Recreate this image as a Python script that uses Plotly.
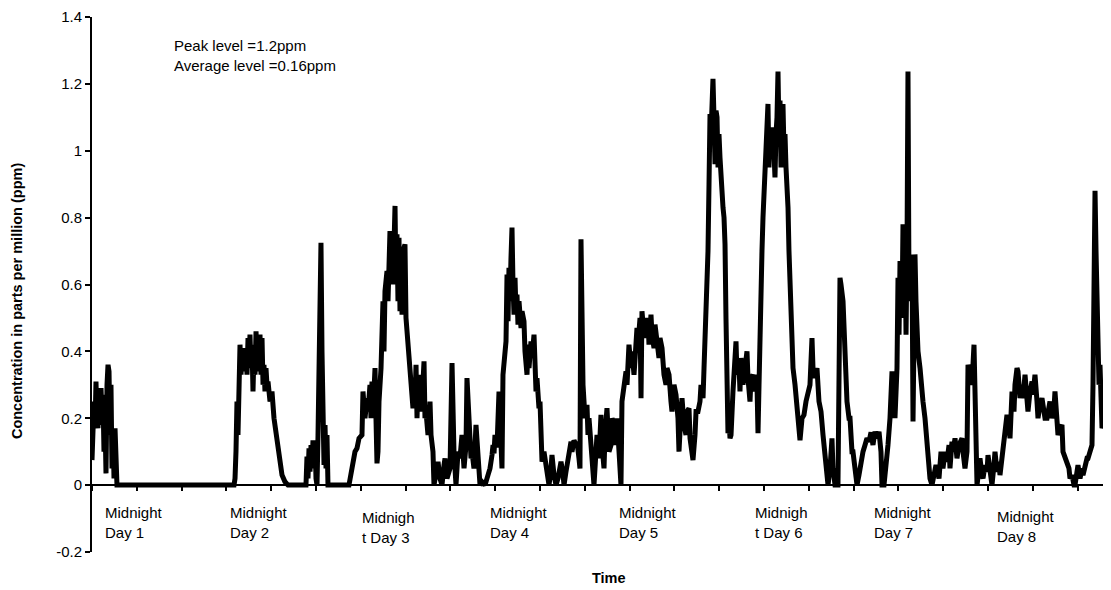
import plotly.graph_objects as go

# ---------------- data (time in hours from start, concentration in ppm) ----------------
t_day1 = [0.00, 0.18, 0.36, 0.54, 0.71, 0.89, 1.07, 1.25, 1.43, 1.61, 1.79, 1.96, 2.14,
          2.32, 2.50, 2.68, 2.86, 3.04, 3.21, 3.39, 3.57, 3.75, 3.93, 4.11, 4.29, 4.46]
c_day1 = [0.075, 0.20, 0.25, 0.17, 0.31, 0.20, 0.17, 0.28, 0.18, 0.29, 0.20, 0.27, 0.10,
          0.20, 0.035, 0.30, 0.36, 0.34, 0.15, 0.30, 0.05, 0.17, 0.02, 0.17, 0.05, 0.00]

t_day2 = [25.36, 25.54, 25.71, 25.89, 26.07, 26.25, 26.43, 26.61, 26.79, 26.96,
          27.14, 27.32, 27.50, 27.68, 27.86, 28.04, 28.21, 28.39, 28.57, 28.75,
          28.93, 29.11, 29.29, 29.46, 29.64, 29.82, 30.00, 30.18, 30.36, 30.54,
          30.71, 30.89, 31.07, 31.25, 31.43, 31.79, 32.14, 32.50, 32.86, 33.21,
          33.57, 33.93, 34.46, 35.00, 38.21, 38.39, 38.57, 38.75, 38.93, 39.11,
          39.29, 39.46, 39.64, 39.82, 40.00, 40.18, 40.36, 40.54, 40.71, 40.89,
          41.07, 41.25, 41.43, 41.61, 41.79, 41.96, 42.14, 45.89, 46.43, 46.61,
          46.96, 47.32, 47.68]
c_day2 = [0.00, 0.02, 0.10, 0.25, 0.15, 0.35, 0.42, 0.33, 0.41, 0.36,
          0.40, 0.34, 0.41, 0.33, 0.44, 0.36, 0.45, 0.35, 0.42, 0.28,
          0.40, 0.33, 0.46, 0.38, 0.44, 0.34, 0.45, 0.33, 0.44, 0.30,
          0.36, 0.28, 0.35, 0.30, 0.31, 0.25, 0.28, 0.20, 0.15, 0.10,
          0.06, 0.03, 0.01, 0.00, 0.00, 0.085, 0.02, 0.11, 0.04, 0.12,
          0.06, 0.134, 0.05, 0.13, 0.02, 0.00, 0.15, 0.29, 0.45, 0.725,
          0.40, 0.21, 0.06, 0.18, 0.05, 0.15, 0.00, 0.00, 0.05, 0.08,
          0.10, 0.11, 0.14]

t_day3 = [48.21, 48.39, 48.75, 49.11, 49.29, 49.64, 49.82, 50.00, 50.18, 50.54,
          50.71, 50.89, 51.07, 51.25, 51.61, 51.96, 52.14, 52.32, 52.68, 52.86,
          53.21, 53.39, 53.57, 53.75, 54.11, 54.29, 54.46, 54.64, 54.82, 55.00,
          55.18, 55.36, 55.54, 55.89, 56.07, 56.25, 56.43, 56.79, 56.96, 57.32,
          57.50, 57.68, 57.86, 58.04, 58.21, 58.57, 58.75, 58.93, 59.29, 59.46,
          59.64, 60.00, 60.36, 60.54, 60.89, 61.07, 61.43, 61.79, 62.14, 62.50,
          62.86, 63.04, 63.39, 63.57, 63.93, 64.29, 64.46, 64.64, 65.00, 65.36,
          65.71, 66.07, 66.43, 66.79, 66.96, 67.14, 67.32, 67.68, 67.86, 68.21,
          68.57, 68.75, 68.93, 69.29, 69.64, 70.18, 70.71, 71.07, 71.43, 71.61,
          71.79, 71.96]
c_day3 = [0.15, 0.28, 0.20, 0.26, 0.22, 0.30, 0.20, 0.31, 0.22, 0.35,
          0.20, 0.065, 0.10, 0.25, 0.35, 0.55, 0.40, 0.58, 0.64, 0.55,
          0.76, 0.60, 0.72, 0.60, 0.835, 0.60, 0.75, 0.55, 0.74, 0.52,
          0.70, 0.51, 0.70, 0.72, 0.50, 0.46, 0.42, 0.38, 0.30, 0.23,
          0.30, 0.25, 0.36, 0.20, 0.30, 0.22, 0.33, 0.25, 0.37, 0.20,
          0.22, 0.15, 0.25, 0.15, 0.10, 0.00, 0.05, 0.07, 0.02, 0.00,
          0.06, 0.08, 0.02, 0.03, 0.05, 0.365, 0.20, 0.10, 0.00, 0.10,
          0.08, 0.15, 0.05, 0.12, 0.32, 0.25, 0.15, 0.08, 0.10, 0.05,
          0.18, 0.12, 0.05, 0.00, 0.01, 0.00, 0.03, 0.05, 0.09, 0.12,
          0.095, 0.15]

t_day4 = [72.32, 72.68, 72.86, 73.21, 73.39, 73.75, 73.93, 74.11, 74.29, 74.46,
          74.64, 74.82, 75.00, 75.18, 75.36, 75.54, 75.71, 75.89, 76.07, 76.25,
          76.61, 76.79, 77.14, 77.32, 77.68, 77.86, 78.04, 78.39, 78.57, 78.93,
          79.11, 79.29, 79.46, 79.82, 80.00, 80.18, 80.36, 80.71, 81.07, 81.25,
          81.61, 81.96, 82.14, 82.50, 82.86, 83.21, 83.57, 83.75, 84.11, 84.29,
          84.64, 85.00, 85.18, 85.54, 85.71, 86.07, 86.43, 86.61, 86.96, 87.14,
          87.32, 87.50, 87.68, 88.04, 88.39, 88.57, 88.75, 89.11, 89.29, 89.64,
          89.82, 90.18, 90.54, 90.89, 91.07, 91.43, 91.61, 91.96, 92.32, 92.68,
          92.86, 93.21, 93.57, 93.75, 94.11, 94.46, 94.64, 95.00, 95.36, 95.54,
          95.89]
c_day4 = [0.113, 0.28, 0.20, 0.05, 0.33, 0.40, 0.43, 0.63, 0.49, 0.65,
          0.55, 0.68, 0.77, 0.60, 0.51, 0.62, 0.52, 0.57, 0.48, 0.55,
          0.47, 0.52, 0.49, 0.40, 0.33, 0.42, 0.35, 0.43, 0.38, 0.45,
          0.36, 0.28, 0.32, 0.23, 0.25, 0.15, 0.07, 0.10, 0.065, 0.03,
          0.00, 0.05, 0.09, 0.03, 0.00, 0.02, 0.05, 0.07, 0.03, 0.00,
          0.04, 0.08, 0.095, 0.13, 0.10, 0.134, 0.12, 0.13, 0.08, 0.05,
          0.735, 0.60, 0.30, 0.20, 0.24, 0.15, 0.20, 0.12, 0.05, 0.00,
          0.05, 0.15, 0.08, 0.21, 0.12, 0.05, 0.15, 0.23, 0.10, 0.12,
          0.20, 0.18, 0.12, 0.20, 0.10, 0.00, 0.25, 0.30, 0.34, 0.30,
          0.42]

t_day5 = [96.25, 96.43, 96.79, 96.96, 97.32, 97.50, 97.86, 98.04, 98.21, 98.57,
          98.75, 98.93, 99.29, 99.46, 99.82, 100.00, 100.36, 100.54, 100.89, 101.25,
          101.43, 101.79, 102.14, 102.50, 102.68, 103.04, 103.39, 103.57, 103.93, 104.29,
          104.64, 104.82, 105.18, 105.36, 105.71, 106.07, 106.25, 106.61, 106.79, 107.14,
          107.32, 107.68, 107.86, 108.21, 108.57, 108.75, 109.11, 109.29, 109.64, 109.82,
          110.00, 110.18, 110.36, 110.54, 110.71, 110.89, 111.07, 111.25, 111.43, 111.61,
          111.79, 111.96, 112.14, 112.32, 112.50, 112.68, 112.86, 113.04, 113.21, 113.39,
          113.57, 113.75, 113.93, 114.11, 114.46, 114.64, 115.00, 115.18, 115.54, 115.71,
          115.89, 116.25, 116.61, 116.96, 117.14, 117.50, 117.68, 118.04, 118.21, 118.39,
          118.75, 118.93, 119.11, 119.29, 119.64, 119.82]
c_day5 = [0.35, 0.40, 0.33, 0.40, 0.47, 0.42, 0.50, 0.26, 0.52, 0.45,
          0.50, 0.44, 0.50, 0.42, 0.51, 0.45, 0.41, 0.48, 0.43, 0.38,
          0.44, 0.41, 0.33, 0.30, 0.35, 0.33, 0.25, 0.22, 0.30, 0.27,
          0.20, 0.10, 0.22, 0.26, 0.18, 0.15, 0.22, 0.23, 0.14, 0.08,
          0.075, 0.15, 0.22, 0.22, 0.25, 0.30, 0.26, 0.35, 0.50, 0.55,
          0.70, 0.90, 1.11, 1.05, 1.15, 1.215, 1.10, 0.96, 1.12, 1.10,
          0.95, 1.05, 0.98, 0.90, 0.85, 0.83, 0.80, 0.72, 0.50, 0.30,
          0.155, 0.20, 0.14, 0.15, 0.28, 0.35, 0.43, 0.33, 0.36, 0.28,
          0.38, 0.30, 0.35, 0.40, 0.32, 0.25, 0.32, 0.33, 0.28, 0.33,
          0.30, 0.155, 0.30, 0.50, 0.70, 0.80]

t_day6 = [120.00, 120.18, 120.36, 120.54, 120.71, 120.89, 121.07, 121.25, 121.43, 121.61,
          121.79, 121.96, 122.14, 122.32, 122.50, 122.68, 122.86, 123.04, 123.21, 123.39,
          123.57, 123.75, 123.93, 124.11, 124.29, 124.46, 124.64, 124.82, 125.00, 125.18,
          125.54, 125.89, 126.07, 126.43, 126.79, 127.14, 127.50, 127.86, 128.21, 128.57,
          128.75, 129.11, 129.46, 129.82, 130.18, 130.54, 130.89, 131.25, 131.43, 131.79,
          132.14, 132.32, 132.68, 133.21, 133.39, 133.57, 133.75, 134.11, 134.46, 134.82,
          135.18, 135.36, 135.71, 135.89, 136.25, 136.61, 136.96, 137.32, 137.68, 138.04,
          138.39, 138.75, 139.11, 139.46, 139.82, 140.18, 140.54, 140.89, 141.07, 141.43,
          141.79, 142.14, 142.50, 142.86, 143.21, 143.39, 143.75, 143.93]
c_day6 = [0.87, 0.90, 0.95, 1.00, 1.14, 0.95, 1.05, 0.98, 1.00, 1.07,
          0.95, 0.92, 1.05, 1.10, 1.237, 1.05, 1.15, 0.95, 1.10, 1.14,
          1.00, 1.05, 0.95, 0.90, 0.83, 0.70, 0.60, 0.50, 0.42, 0.35,
          0.30, 0.24, 0.18, 0.134, 0.20, 0.21, 0.25, 0.28, 0.30, 0.44,
          0.35, 0.32, 0.35, 0.25, 0.22, 0.15, 0.10, 0.05, 0.00, 0.05,
          0.14, 0.05, 0.00, 0.00, 0.20, 0.62, 0.60, 0.55, 0.40, 0.25,
          0.20, 0.20, 0.10, 0.10, 0.05, 0.00, 0.03, 0.08, 0.10, 0.12,
          0.14, 0.13, 0.158, 0.12, 0.16, 0.14, 0.16, 0.10, 0.00, 0.00,
          0.05, 0.12, 0.20, 0.34, 0.30, 0.20, 0.35, 0.62]

t_day7 = [144.11, 144.29, 144.46, 144.64, 144.82, 145.00, 145.18, 145.36, 145.54, 145.71,
          145.89, 146.07, 146.25, 146.43, 146.61, 146.79, 146.96, 147.14, 147.32, 147.50,
          147.86, 148.04, 148.39, 148.75, 149.11, 149.29, 149.64, 150.00, 150.36, 150.71,
          150.89, 151.25, 151.61, 151.96, 152.32, 152.68, 153.04, 153.21, 153.57, 153.75,
          154.11, 154.46, 154.82, 155.36, 155.54, 155.89, 156.25, 156.43, 156.79, 157.14,
          157.50, 157.68, 158.04, 158.39, 158.57, 158.93, 159.11, 159.46, 159.82, 160.00,
          160.36, 160.71, 161.07, 161.25, 161.61, 161.96, 162.14, 162.50, 162.68, 163.04,
          163.39, 163.75, 163.93, 164.29, 164.64, 164.82, 165.18, 165.36, 165.71, 166.07,
          166.25, 166.61, 166.96, 167.14, 167.50, 167.86]
c_day7 = [0.45, 0.67, 0.55, 0.50, 0.78, 0.60, 0.75, 0.45, 0.70, 1.237,
          0.60, 0.55, 0.65, 0.69, 0.19, 0.50, 0.69, 0.55, 0.46, 0.40,
          0.35, 0.30, 0.25, 0.20, 0.12, 0.08, 0.02, 0.00, 0.03, 0.06,
          0.05, 0.02, 0.10, 0.05, 0.10, 0.07, 0.12, 0.05, 0.13, 0.10,
          0.14, 0.08, 0.12, 0.14, 0.10, 0.05, 0.10, 0.36, 0.33, 0.30,
          0.42, 0.30, 0.00, 0.05, 0.08, 0.03, 0.02, 0.06, 0.04, 0.09,
          0.03, 0.00, 0.06, 0.10, 0.04, 0.07, 0.03, 0.08, 0.10, 0.15,
          0.21, 0.17, 0.14, 0.28, 0.22, 0.30, 0.35, 0.34, 0.26, 0.30,
          0.26, 0.33, 0.25, 0.22, 0.28, 0.31]

t_day8 = [168.04, 168.39, 168.75, 168.93, 169.29, 169.64, 170.00, 170.18, 170.54, 170.89,
          171.07, 171.43, 171.79, 171.96, 172.32, 172.50, 172.86, 173.21, 173.39, 173.75,
          174.11, 174.46, 174.64, 175.00, 175.36, 175.54, 175.89, 176.07, 176.43, 176.79,
          176.96, 177.32, 177.68, 177.86, 178.21, 178.57, 178.75, 178.93, 179.11, 179.29,
          179.46, 179.64, 179.82, 180.00, 180.18, 180.36, 180.54, 180.71, 180.89, 181.07,
          181.25, 181.43, 181.61, 181.79, 182.14]
c_day8 = [0.27, 0.33, 0.25, 0.20, 0.24, 0.26, 0.22, 0.20, 0.20, 0.24,
          0.25, 0.20, 0.23, 0.28, 0.20, 0.15, 0.17, 0.18, 0.10, 0.08,
          0.06, 0.05, 0.02, 0.03, 0.00, 0.00, 0.04, 0.06, 0.02, 0.05,
          0.03, 0.06, 0.08, 0.08, 0.10, 0.12, 0.30, 0.75, 0.88, 0.70,
          0.50, 0.40, 0.30, 0.36, 0.25, 0.17, 0.18, 0.30, 0.25, 0.36,
          0.34, 0.30, 0.20, 0.15, 0.30]

# day labels (text boxes under the axis): text, x (hours), y (ppm)
day_label_text = ["Midnight<br>Day 1", "Midnight<br>Day 2", "Midnigh<br>t Day 3",
                  "Midnight<br>Day 4", "Midnight<br>Day 5", "Midnigh<br>t Day 6",
                  "Midnight<br>Day 7", "Midnight<br>Day 8"]
day_label_hour = [1.9, 24.2, 47.9, 70.8, 93.7, 118.0, 139.2, 161.2]
day_label_ppm = [-0.112, -0.112, -0.128, -0.112, -0.112, -0.112, -0.112, -0.124]

y_tick_vals = [-0.2, 0, 0.2, 0.4, 0.6, 0.8, 1, 1.2, 1.4]
y_tick_text = ["-0.2", "0", "0.2", "0.4", "0.6", "0.8", "1", "1.2", "1.4"]

stats_text = "Peak level =1.2ppm<br>Average level =0.16ppm"

# ---------------- figure ----------------
hours = t_day1 + t_day2 + t_day3 + t_day4 + t_day5 + t_day6 + t_day7 + t_day8
ppm = c_day1 + c_day2 + c_day3 + c_day4 + c_day5 + c_day6 + c_day7 + c_day8

FONT = "Liberation Sans, Arial, sans-serif"

fig = go.Figure()
fig.add_trace(go.Scatter(x=hours, y=ppm, mode="lines",
                         line=dict(color="#000000", width=5),
                         hoverinfo="skip", showlegend=False))

annotations = []
for txt, hx, hy in zip(day_label_text, day_label_hour, day_label_ppm):
    annotations.append(dict(x=hx, y=hy, xref="x", yref="y", text=txt, showarrow=False,
                            xanchor="left", yanchor="middle", align="left",
                            font=dict(family=FONT, size=15, color="#000")))
annotations.append(dict(x=14.3, y=1.286, xref="x", yref="y", text=stats_text,
                        showarrow=False, xanchor="left", yanchor="middle", align="left",
                        font=dict(family=FONT, size=15, color="#000")))
annotations.append(dict(x=-0.0736, y=0.469, xref="paper", yref="paper",
                        text="<b>Concentration in parts per million (ppm)</b>",
                        textangle=-90, showarrow=False, xanchor="center", yanchor="middle",
                        font=dict(family=FONT, size=14.5, color="#000")))
annotations.append(dict(x=0.507, y=-0.0484, xref="paper", yref="paper",
                        text="<b>Time</b>", showarrow=False, xanchor="center",
                        yanchor="middle", font=dict(family=FONT, size=14.5, color="#000")))

# page has an 8px body margin, so the figure is sized to fit the 1111x590 window
fig.update_layout(
    width=1103, height=582,
    margin=dict(l=84, r=0, t=7, b=38),
    paper_bgcolor="white", plot_bgcolor="white",
    showlegend=False,
    font=dict(family=FONT, color="#000"),
    annotations=annotations,
    xaxis=dict(range=[0, 1019 / 5.6], showgrid=False, zeroline=False,
               showline=True, linecolor="#000", linewidth=2,
               ticks="outside", ticklen=5, tickwidth=1.5, tickcolor="#000",
               tick0=0, dtick=8, showticklabels=False,
               anchor="free", position=0.125),
    yaxis=dict(range=[-0.2, 1.4], showgrid=False, zeroline=False,
               showline=True, linecolor="#000", linewidth=2,
               ticks="outside", ticklen=5, tickwidth=1.5, tickcolor="#000",
               tickvals=y_tick_vals, ticktext=y_tick_text,
               ticklabeloverflow="allow",
               tickfont=dict(family=FONT, size=15, color="#000")),
)

fig.write_html("out.html")
